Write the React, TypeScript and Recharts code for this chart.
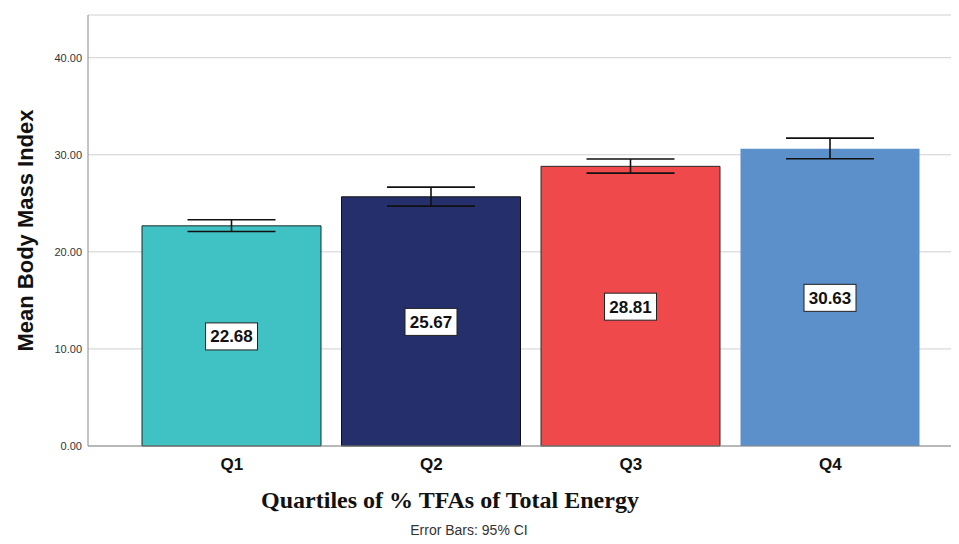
import { BarChart, Bar, XAxis, YAxis, CartesianGrid, ErrorBar, Cell, LabelList, Label } from 'recharts';

const quartiles = ['Q1', 'Q2', 'Q3', 'Q4'];
const meanBmi = [22.68, 25.67, 28.81, 30.63];
const ciLower = [22.09, 24.71, 28.11, 29.59];
const ciUpper = [23.3, 26.67, 29.56, 31.72];
const barColors = ['#40c1c3', '#252f6b', '#ef494b', '#5b90cb'];
const barStrokes = ['#1d2b2b', '#111111', '#2a2a2a', 'none'];
const yTicks = [0, 10, 20, 30, 40];

const data = quartiles.map((q, i) => ({
  quartile: q,
  bmi: meanBmi[i],
  ci: [meanBmi[i] - ciLower[i], ciUpper[i] - meanBmi[i]],
}));

const ValueBox = (props: any) => {
  const { x, y, width, height, value } = props;
  const cx = x + width / 2;
  const cy = y + height / 2;
  return (
    <g>
      <rect x={cx - 26} y={cy - 13} width={52} height={27} fill="#fff" stroke="#222" strokeWidth={1} />
      <text
        x={cx}
        y={cy + 1}
        textAnchor="middle"
        dominantBaseline="central"
        fontFamily="Arial, 'Liberation Sans', sans-serif"
        fontWeight="bold"
        fontSize={17}
        fill="#111"
      >
        {Number(value).toFixed(2)}
      </text>
    </g>
  );
};

const YTitle = (props: any) => {
  const { viewBox } = props;
  const cy = viewBox.y + viewBox.height / 2;
  return (
    <text
      x={25}
      y={cy}
      transform={`rotate(-90, 25, ${cy})`}
      textAnchor="middle"
      dominantBaseline="central"
      fontFamily="Arial, 'Liberation Sans', sans-serif"
      fontWeight="bold"
      fontSize={22}
      fill="#111"
    >
      Mean Body Mass Index
    </text>
  );
};

export default function App() {
  return (
    <div style={{ position: 'relative', width: 959, height: 544, margin: -8, background: '#fff' }}>
      <BarChart
        width={959}
        height={544}
        data={data}
        margin={{ top: 15, right: 0, bottom: 68, left: 0 }}
      >
        <CartesianGrid vertical={false} stroke="#d0d0d0" />
        <XAxis
          dataKey="quartile"
          height={30}
          padding={{ left: 44, right: 29 }}
          axisLine={{ stroke: '#8a8a8a' }}
          tickLine={false}
          tickSize={0}
          tickMargin={12}
          tick={{ fontFamily: 'Arial, sans-serif', fontWeight: 'bold', fontSize: 17, fill: '#111' }}
        />
        <YAxis
          width={88}
          domain={[0, 44.4]}
          ticks={yTicks}
          tickFormatter={(v) => v.toFixed(2)}
          axisLine={{ stroke: '#8a8a8a' }}
          tickLine={false}
          tickSize={0}
          tickMargin={6}
          tick={{ fontFamily: 'Arial, sans-serif', fontSize: 11, fill: '#333' }}
        >
          <Label content={YTitle} />
        </YAxis>
        <Bar dataKey="bmi" barSize={179} isAnimationActive={false}>
          {data.map((d, i) => (
            <Cell key={d.quartile} fill={barColors[i]} stroke={barStrokes[i]} strokeWidth={1} />
          ))}
          <LabelList dataKey="bmi" content={ValueBox} />
          <ErrorBar dataKey="ci" width={44} stroke="#111" strokeWidth={1.6} />
        </Bar>
      </BarChart>
      <div
        style={{
          position: 'absolute',
          left: 0,
          width: 900,
          top: 488,
          textAlign: 'center',
          fontFamily: "'Times New Roman', 'Liberation Serif', serif",
          fontWeight: 'bold',
          fontSize: 24,
          lineHeight: '24px',
          color: '#111',
        }}
      >
        Quartiles of % TFAs of Total Energy
      </div>
      <div
        style={{
          position: 'absolute',
          left: 0,
          width: 938,
          top: 523,
          textAlign: 'center',
          fontFamily: 'Arial, sans-serif',
          fontSize: 14,
          lineHeight: '14px',
          color: '#333',
        }}
      >
        Error Bars: 95% CI
      </div>
    </div>
  );
}
